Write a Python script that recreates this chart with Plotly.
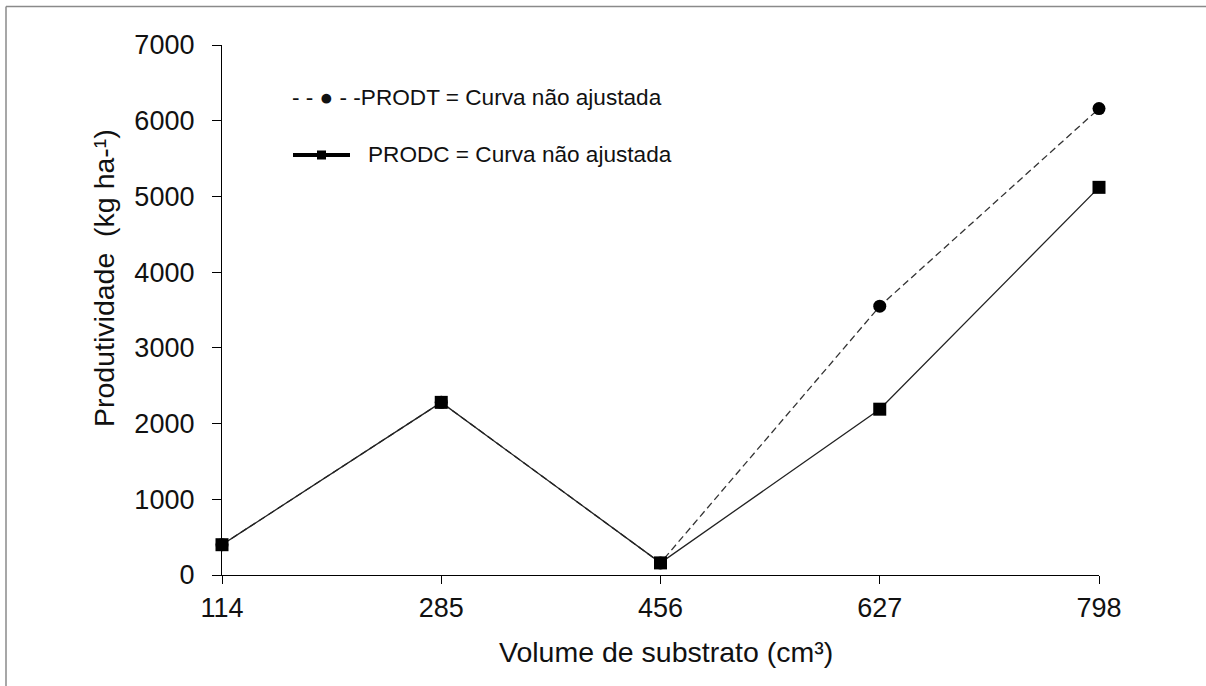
import plotly.graph_objects as go

# Substrate volume (cm³) and yield (kg ha-1)
volume = [114, 285, 456, 627, 798]
prodt = [400, 2280, 160, 3550, 6160]
prodc = [400, 2280, 160, 2190, 5120]
y_ticks = [0, 1000, 2000, 3000, 4000, 5000, 6000, 7000]

FONT = "Liberation Sans, Arial, sans-serif"
W, H = 1206, 686
L, R, T, B = 222, 107, 45, 111
pw, ph = W - L - R, H - T - B


def px(x):
    return (x - L) / pw


def py(y):
    return (H - B - y) / ph


fig = go.Figure()

fig.add_trace(go.Scatter(
    x=volume, y=prodt, mode="lines+markers", name="PRODT",
    line=dict(color="#333333", width=1.3, dash="7px,4px"),
    marker=dict(symbol="circle", size=13, color="black"),
    cliponaxis=False, showlegend=False,
))
fig.add_trace(go.Scatter(
    x=volume, y=prodc, mode="lines+markers", name="PRODC",
    line=dict(color="#222222", width=1.3),
    marker=dict(symbol="square", size=13, color="black"),
    cliponaxis=False, showlegend=False,
))

# hand-drawn key
fig.add_annotation(
    xref="paper", yref="paper", x=px(290), y=py(98), xanchor="left", yanchor="middle",
    text="- - \u25cf - -PRODT = Curva não ajustada", showarrow=False,
    font=dict(family=FONT, size=22.6, color="#111111"),
)
fig.add_shape(type="line", xref="paper", yref="paper",
              x0=px(293), x1=px(350), y0=py(155), y1=py(155),
              line=dict(color="black", width=4))
fig.add_shape(type="rect", xref="paper", yref="paper",
              x0=px(317), x1=px(326), y0=py(159.5), y1=py(150.5),
              line=dict(color="black", width=0), fillcolor="black")
fig.add_annotation(
    xref="paper", yref="paper", x=px(366), y=py(155), xanchor="left", yanchor="middle",
    text="PRODC = Curva não ajustada", showarrow=False,
    font=dict(family=FONT, size=22.6, color="#111111"),
)

# axis titles
fig.add_annotation(
    xref="paper", yref="paper", x=px(666), y=py(652), xanchor="center", yanchor="middle",
    text="Volume de substrato (cm³)", showarrow=False,
    font=dict(family=FONT, size=28.5, color="#111111"),
)
fig.add_annotation(
    xref="paper", yref="paper", x=px(104), y=py(278), xanchor="center", yanchor="middle",
    text="Produtividade  (kg ha-¹)", textangle=-90, showarrow=False,
    font=dict(family=FONT, size=28.5, color="#111111"),
)

# outer frame (top and left edges)
fig.add_shape(type="line", xref="paper", yref="paper",
              x0=px(6), x1=px(1210), y0=py(6.5), y1=py(6.5),
              line=dict(color="#8a8a8a", width=1.5))
fig.add_shape(type="line", xref="paper", yref="paper",
              x0=px(6), x1=px(6), y0=py(6.5), y1=py(690),
              line=dict(color="#8a8a8a", width=1.5))

fig.update_layout(
    width=W, height=H,
    margin=dict(l=L, r=R, t=T, b=B),
    paper_bgcolor="white", plot_bgcolor="white",
    font=dict(family=FONT, color="#111111"),
    xaxis=dict(
        range=[114, 798], tickvals=volume, ticktext=[str(v) for v in volume],
        showline=True, linecolor="black", linewidth=1.3,
        ticks="outside", ticklen=8, tickcolor="black", tickwidth=1.3,
        showgrid=False, zeroline=False,
        tickfont=dict(family=FONT, size=27, color="#111111"),
        ticklabelstandoff=0,
    ),
    yaxis=dict(
        range=[0, 7000], tickvals=y_ticks, ticktext=[str(v) for v in y_ticks],
        showline=True, linecolor="black", linewidth=1.3,
        ticks="outside", ticklen=9, tickcolor="black", tickwidth=1.3,
        showgrid=False, zeroline=False,
        tickfont=dict(family=FONT, size=27, color="#111111"),
        ticklabelstandoff=12,
    ),
)

fig.write_html("out.html")
